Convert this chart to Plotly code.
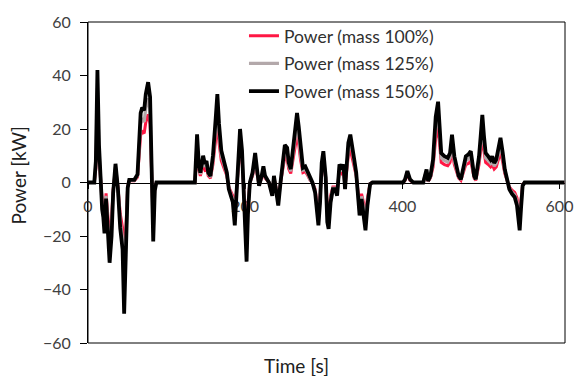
import plotly.graph_objects as go

# Time axis [s]
time_s = [0, 8, 10, 12, 14, 16, 18, 19.5, 21, 23,
          25, 27.5, 30, 32, 35, 38, 41, 44, 46, 48.5,
          50.5, 52.5, 59, 63, 65, 67, 69, 71.5, 73.5, 76.5,
          79, 80.5, 82, 83, 85, 87, 136, 138.8, 141, 143,
          146.5, 148.7, 150.8, 153, 155.8, 159, 162.5, 164.6, 166.7, 169.6,
          173.8, 176.7, 179.2, 182, 184.3, 186.8, 188.4, 190.5, 193.5, 196,
          197.7, 199.3, 201.8, 203.5, 206, 209.4, 212.7, 215.6, 217.7, 221,
          223.2, 225.3, 228.2, 230.3, 232.4, 234.5, 236.6, 238.7, 242.1, 245,
          247.1, 250.5, 253.4, 255.5, 258, 260.5, 263.1, 266, 268.1, 270.6,
          273.5, 276.5, 279.8, 282.7, 285.6, 289, 291.5, 293.2, 295.3, 297.4,
          299.5, 301, 302.5, 304.5, 306.2, 308.7, 311.6, 314.5, 317, 320,
          322.9, 325, 327.1, 328.8, 331.3, 333.8, 336.3, 338.8, 341.3, 343,
          345.6, 348.1, 350.6, 353.1, 355.6, 359, 362, 401, 403.5, 406.4,
          409.8, 414, 426.6, 428.7, 430.8, 432.8, 435.8, 439.1, 442.5, 445.5,
          449.5, 453.6, 457.8, 460.7, 463.2, 466.2, 469.1, 471.6, 474.5, 477.5,
          480.8, 484.2, 487.1, 489.2, 491.3, 493.4, 495.5, 497.6, 499.7, 501.8,
          503.9, 506, 509.4, 512.3, 514.4, 516.9, 519.5, 522, 524.9, 527.8,
          530.4, 533.3, 536.2, 539.6, 543, 545.9, 548, 549.3, 551, 553.1,
          555.6, 606]

# Power [kW], vehicle mass 100 %
power_m100 = [0, 0, 5.4, 28.6, 9.5, 0, -6.8, -8.8, -12.9, -4.1,
              -10.9, -20.4, -13.6, -2.7, 4.8, -1.4, -11.6, -17, -33.3, -17,
              -1.4, 0.7, 0.7, 2, 10.2, 17.7, 19, 18.4, 22.4, 25.5,
              21.8, 8.2, 0, -15, -2, 0, 0, 12.2, 4.8, 2.5,
              6.8, 4.8, 5.4, 2.5, 1.6, 6.8, 16.3, 22.4, 15, 8.2,
              4.8, 2.5, -1.7, -3.4, -5, -10.9, -4.8, 4.8, 13.6, 8.2,
              0, -8.2, -20.1, -8.2, 0, 2.5, 7.5, 2.5, -0.8, 1.7,
              4.1, 1.7, 0.8, 0, -1.7, -3.4, 1.7, -0.8, -5.8, 0,
              4.1, 9.5, 8.8, 5, 3.4, 8.2, 13.4, 17.7, 14.3, 8.2,
              3.7, 4.1, 2.5, 0.8, 0, -2.5, -8.2, -10.9, -5, 5,
              8, 5.4, 1.4, -10.1, -11.8, -5, -1.7, -1.7, -3.3, 4.6,
              3.4, 4.6, -1.7, 3.4, 10.1, 12.2, 9.5, 5.8, 2.5, -2.5,
              -8.4, -4.2, -7.5, -12.2, -5.8, -0.4, 0, 0, 0.8, 2.9,
              0.8, 0, 0, 2, 3.3, 0.4, 1.7, 5.8, 16.7, 20.5,
              7.5, 6.7, 6.3, 7.5, 12.2, 6.7, 4.1, 1.7, 0.8, 3.3,
              6.7, 7.1, 8, 5, 1.7, 0.8, 3.3, 6.7, 11.8, 17.2,
              11.8, 7.5, 6.7, 5.8, 6.7, 5, 5.8, 8.4, 11.4, 7.5,
              3.3, 0.8, -1.7, -2.9, -3.7, -5.8, -10.1, -12.2, -6.7, -0.8,
              0, 0]

# Power [kW], vehicle mass 125 %
power_m125 = [0, 0, 6.7, 35.3, 11.8, 0, -8.4, -10.9, -16, -5,
              -13.4, -25.2, -16.8, -3.4, 5.9, -1.7, -14.3, -21, -41.2, -21,
              -1.7, 0.8, 0.8, 2.5, 12.6, 21.8, 23.5, 22.7, 27.7, 31.5,
              26.9, 10.1, 0, -18.5, -2.5, 0, 0, 15.1, 5.9, 3.1,
              8.4, 5.9, 6.7, 3.1, 2, 8.4, 20.2, 27.7, 18.5, 10.1,
              5.9, 3.1, -2.1, -4.2, -6.2, -13.4, -5.9, 5.9, 16.8, 10.1,
              0, -10.1, -24.9, -10.1, 0, 3.1, 9.2, 3.1, -1, 2.1,
              5, 2.1, 1, 0, -2.1, -4.2, 2.1, -1, -7.2, 0,
              5, 11.8, 10.9, 6.1, 4.2, 10.1, 16.5, 21.8, 17.6, 10.1,
              4.6, 5, 3.1, 1, 0, -3.1, -10.1, -13.4, -6.2, 6.1,
              9.8, 6.7, 1.7, -12.4, -14.5, -6.2, -2.1, -2.1, -4.1, 5.7,
              4.2, 5.7, -2.1, 4.2, 12.4, 15, 11.8, 7.2, 3.1, -3.1,
              -10.3, -5.2, -9.2, -15, -7.2, -0.5, 0, 0, 1, 3.6,
              1, 0, 0, 2.5, 4.1, 0.5, 2.1, 7.2, 20.7, 25.4,
              9.2, 8.2, 7.7, 9.2, 15, 8.2, 5.1, 2.1, 1, 4.1,
              8.2, 8.8, 9.8, 6.1, 2.1, 1, 4.1, 8.2, 14.5, 21.3,
              14.5, 9.2, 8.2, 7.2, 8.2, 6.1, 7.2, 10.3, 14, 9.2,
              4.1, 1, -2.1, -3.6, -4.6, -7.2, -12.4, -15, -8.3, -1,
              0, 0]

# Power [kW], vehicle mass 150 %
power_m150 = [0, 0, 8, 42, 14, 0, -10, -13, -19, -6,
              -16, -30, -20, -4, 7, -2, -17, -25, -49, -25,
              -2, 1, 1, 3, 15, 26, 28, 27, 33, 37.5,
              32, 12, 0, -22, -3, 0, 0, 18, 7, 3.7,
              10, 7, 8, 3.7, 2.4, 10, 24, 33, 22, 12,
              7, 3.7, -2.5, -5, -7.4, -16, -7, 7, 20, 12,
              0, -12, -29.6, -12, 0, 3.7, 11, 3.7, -1.2, 2.5,
              6, 2.5, 1.2, 0, -2.5, -5, 2.5, -1.2, -8.6, 0,
              6, 14, 13, 7.3, 5, 12, 19.7, 26, 21, 12,
              5.5, 6, 3.7, 1.2, 0, -3.7, -12, -16, -7.4, 7.3,
              11.7, 8, 2, -14.8, -17.3, -7.4, -2.5, -2.5, -4.9, 6.8,
              5, 6.8, -2.5, 5, 14.8, 17.9, 14, 8.6, 3.7, -3.7,
              -12.3, -6.2, -11, -17.9, -8.6, -0.6, 0, 0, 1.2, 4.3,
              1.2, 0, 0, 3, 4.9, 0.6, 2.5, 8.6, 24.6, 30.2,
              11, 9.8, 9.2, 11, 17.9, 9.8, 6.1, 2.5, 1.2, 4.9,
              9.8, 10.5, 11.7, 7.3, 2.5, 1.2, 4.9, 9.8, 17.3, 25.3,
              17.3, 11, 9.8, 8.6, 9.8, 7.3, 8.6, 12.3, 16.7, 11,
              4.9, 1.2, -2.5, -4.3, -5.5, -8.6, -14.8, -17.9, -9.9, -1.2,
              0, 0]

series_names = ["Power (mass 100%)", "Power (mass 125%)", "Power (mass 150%)"]
x_ticks = [0, 200, 400, 600]
y_ticks = [-60, -40, -20, 0, 20, 40, 60]

FONT = "Lato, 'Open Sans', sans-serif"
TXT = "#404040"

fig = go.Figure()
styles = [("#ff1744", 3), ("#b3a8aa", 3.2), ("#000000", 3.8)]
for name, vals, (col, w) in zip(series_names, [power_m100, power_m125, power_m150], styles):
    fig.add_trace(go.Scatter(
        x=time_s, y=vals, mode="lines", name=name, legendgroup=name,
        line=dict(color=col, width=w),
    ))

fig.update_layout(
    width=585, height=376,
    margin=dict(l=88, r=13, t=19, b=33),
    paper_bgcolor="white", plot_bgcolor="white",
    font=dict(family=FONT, size=16, color=TXT),
    showlegend=True,
    legend=dict(
        x=0.327, y=1.013, xanchor="left", yanchor="top",
        bgcolor="rgba(0,0,0,0)", borderwidth=0,
        font=dict(family=FONT, size=17.5, color="#303030"),
        tracegroupgap=2,
    ),
    xaxis=dict(
        range=[0, 607], tickvals=x_ticks, ticktext=[str(v) for v in x_ticks],
        anchor="free", position=0.5,
        showline=True, linecolor="black", linewidth=1,
        ticks="outside", ticklen=5, tickcolor="black",
        ticklabelstandoff=4,
        showgrid=False, zeroline=False, layer="below traces",
        tickfont=dict(family=FONT, size=16, color=TXT),
    ),
    yaxis=dict(
        range=[-60, 60], tickvals=y_ticks,
        showline=True, linecolor="black", linewidth=1,
        ticks="outside", ticklen=7, tickcolor="black",
        ticklabelstandoff=6,
        showgrid=False, zeroline=False, layer="below traces",
        tickfont=dict(family=FONT, size=16, color=TXT),
    ),
    shapes=[dict(type="rect", xref="paper", yref="paper", x0=0, x1=1, y0=0, y1=1,
                 line=dict(color="black", width=1), layer="above")],
    annotations=[
        dict(text="Time [s]", xref="paper", yref="paper", x=0.438, y=0,
             yanchor="middle", yshift=-22, showarrow=False,
             font=dict(family=FONT, size=19, color="#202020")),
        dict(text="Power [kW]", xref="paper", yref="paper", x=0, y=0.522,
             xanchor="center", xshift=-70, textangle=-90, showarrow=False,
             font=dict(family=FONT, size=19, color="#202020")),
    ],
)

fig.write_html("out.html")
